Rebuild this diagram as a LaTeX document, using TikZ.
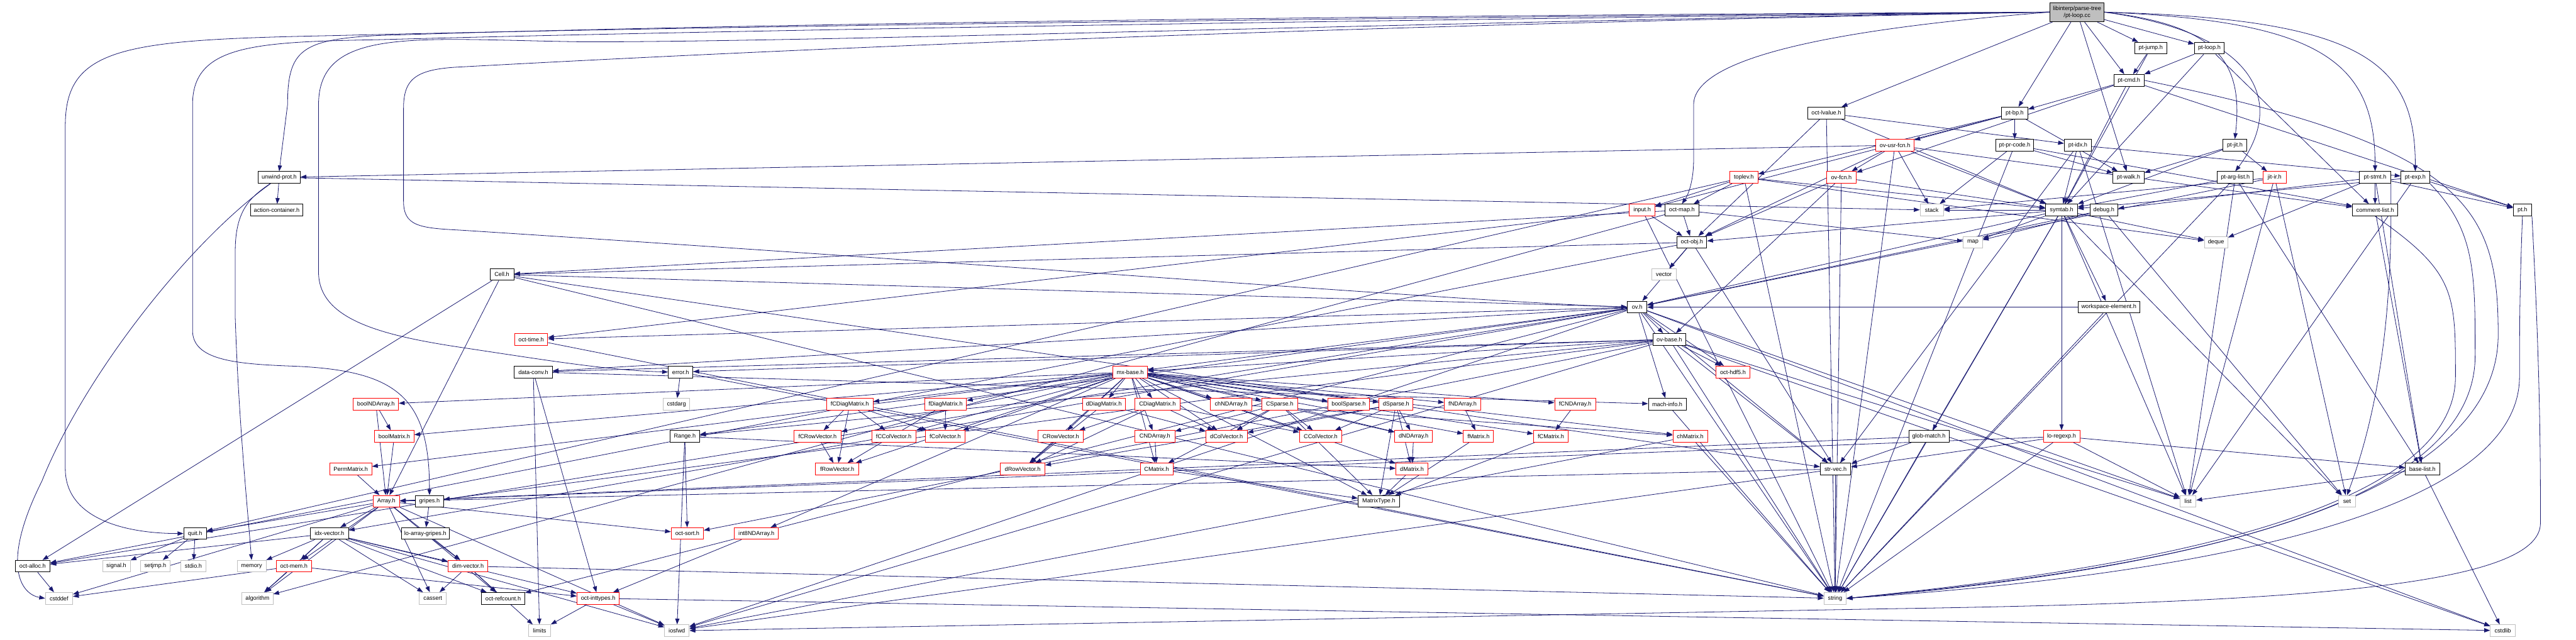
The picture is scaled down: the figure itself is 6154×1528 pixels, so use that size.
\documentclass[tikz,border=0pt]{standalone}
\usepackage{fontspec}
\setmainfont{Liberation Sans}
\usetikzlibrary{arrows.meta}
\definecolor{edgeblue}{RGB}{25,25,112}
\definecolor{sysgray}{RGB}{191,191,191}
\pgfdeclarelayer{background}
\pgfsetlayers{background,main}
\tikzset{
  hdr/.style={draw=black, fill=white, line width=0.7pt, minimum height=14pt, inner xsep=2pt, inner ysep=0pt, font=\fontsize{6.9}{8.3}\selectfont, text=black},
  redh/.style={hdr, draw=red},
  sysh/.style={hdr, draw=sysgray},
  wd/.style={minimum width=#1*0.5pt},
  edge/.style={draw=edgeblue, line width=0.6pt, -{Triangle[length=7pt,width=5pt]}},
}
\begin{document}
\begin{tikzpicture}[x=0.5pt,y=-0.5pt]
\useasboundingbox (0,0) rectangle (6154,1528);
% ---------- nodes ----------
\node[hdr, fill=sysgray, align=center, wd=129, minimum height=23pt] (ptloopcc) at (4962,29) {libinterp/parse-tree\\/pt-loop.cc};
\node[hdr,wd=77] (ptjump) at (5138,115) {pt-jump.h};
\node[hdr,wd=71] (ptloop) at (5278,115) {pt-loop.h};
\node[hdr,wd=72] (ptcmd) at (5086,192) {pt-cmd.h};
\node[hdr,wd=90] (octlvalue) at (4363,270) {oct-lvalue.h};
\node[hdr,wd=63] (ptbp) at (4813,270) {pt-bp.h};
\node[redh,wd=91] (ovusrfcn) at (4527,347) {ov-usr-fcn.h};
\node[hdr,wd=90] (ptprcode) at (4813,347) {pt-pr-code.h};
\node[hdr,wd=65] (ptidx) at (4964,347) {pt-idx.h};
\node[hdr,wd=58] (ptjit) at (5339,347) {pt-jit.h};
\node[hdr,wd=100] (unwind) at (667,424) {unwind-prot.h};
\node[redh,wd=67] (toplev) at (4166,424) {toplev.h};
\node[redh,wd=70] (ovfcn) at (4399,424) {ov-fcn.h};
\node[hdr,wd=74] (ptwalk) at (5085,424) {pt-walk.h};
\node[hdr,wd=86] (ptarglist) at (5340,424) {pt-arg-list.h};
\node[redh,wd=55] (jitir) at (5434,424) {jit-ir.h};
\node[hdr,wd=74] (ptstmt) at (5674,424) {pt-stmt.h};
\node[hdr,wd=69] (ptexp) at (5770,424) {pt-exp.h};
\node[hdr,wd=126] (action) at (661,502) {action-container.h};
\node[redh,wd=61] (input) at (3923,502) {input.h};
\node[hdr,wd=81] (octmap) at (4018,502) {oct-map.h};
\node[sysh,wd=56] (stack) at (4615,502) {stack};
\node[hdr,wd=76] (symtab) at (4925,502) {symtab.h};
\node[hdr,wd=67] (debug) at (5026,502) {debug.h};
\node[hdr,wd=108] (commentlist) at (5674,502) {comment-list.h};
\node[hdr,wd=44] (pt) at (6026,502) {pt.h};
\node[hdr,wd=71] (octobj) at (4042,579) {oct-obj.h};
\node[sysh,wd=46] (map) at (4713,579) {map};
\node[sysh,wd=56] (deque) at (5294,579) {deque};
\node[hdr,wd=57] (cell) at (1199,656) {Cell.h};
\node[sysh,wd=59] (vector) at (3975,656) {vector};
\node[hdr,wd=47] (ov) at (3911,734) {ov.h};
\node[hdr,wd=147] (workspace) at (5038,734) {workspace-element.h};
\node[redh,wd=79] (octtime) at (1269,811) {oct-time.h};
\node[hdr,wd=79] (ovbase) at (3988,811) {ov-base.h};
\node[hdr,wd=91] (dataconv) at (1274,889) {data-conv.h};
\node[hdr,wd=59] (error) at (1626,889) {error.h};
\node[redh,wd=82] (mxbase) at (2700,889) {mx-base.h};
\node[redh,wd=81] (octhdf5) at (4140,889) {oct-hdf5.h};
\node[redh,wd=108] (boolNDArray) at (898,966) {boolNDArray.h};
\node[sysh,wd=64] (cstdarg) at (1616,966) {cstdarg};
\node[redh,wd=111] (fCDiagMatrix) at (2030,966) {fCDiagMatrix.h};
\node[redh,wd=100] (fDiagMatrix) at (2259,966) {fDiagMatrix.h};
\node[redh,wd=102] (dDiagMatrix) at (2637,966) {dDiagMatrix.h};
\node[redh,wd=108] (CDiagMatrix) at (2765,966) {CDiagMatrix.h};
\node[redh,wd=98] (chNDArray) at (2941,966) {chNDArray.h};
\node[redh,wd=85] (CSparse) at (3057,966) {CSparse.h};
\node[redh,wd=98] (boolSparse) at (3222,966) {boolSparse.h};
\node[redh,wd=81] (dSparse) at (3335,966) {dSparse.h};
\node[redh,wd=87] (fNDArray) at (3494,966) {fNDArray.h};
\node[redh,wd=98] (fCNDArray) at (3763,966) {fCNDArray.h};
\node[hdr,wd=90] (machinfo) at (3983,966) {mach-info.h};
\node[redh,wd=94] (boolMatrix) at (942,1043) {boolMatrix.h};
\node[hdr,wd=71] (Range) at (1636,1043) {Range.h};
\node[redh,wd=112] (fCRowVector) at (1953,1043) {fCRowVector.h};
\node[redh,wd=105] (fCColVector) at (2135,1043) {fCColVector.h};
\node[redh,wd=94] (fColVector) at (2258,1043) {fColVector.h};
\node[redh,wd=108] (CRowVector) at (2534,1043) {CRowVector.h};
\node[redh,wd=95] (CNDArray) at (2759,1043) {CNDArray.h};
\node[redh,wd=99] (dColVector) at (2930,1043) {dColVector.h};
\node[redh,wd=101] (CColVector) at (3155,1043) {CColVector.h};
\node[redh,wd=90] (dNDArray) at (3377,1043) {dNDArray.h};
\node[redh,wd=72] (fMatrix) at (3532,1043) {fMatrix.h};
\node[redh,wd=83] (fCMatrix) at (3705,1043) {fCMatrix.h};
\node[redh,wd=83] (chMatrix) at (4038,1043) {chMatrix.h};
\node[hdr,wd=96] (globmatch) at (4608,1043) {glob-match.h};
\node[redh,wd=87] (loregexp) at (4925,1043) {lo-regexp.h};
\node[redh,wd=100] (PermMatrix) at (838,1121) {PermMatrix.h};
\node[redh,wd=103] (fRowVector) at (2000,1121) {fRowVector.h};
\node[redh,wd=106] (dRowVector) at (2443,1121) {dRowVector.h};
\node[redh,wd=78] (CMatrix) at (2763,1121) {CMatrix.h};
\node[redh,wd=76] (dMatrix) at (3373,1121) {dMatrix.h};
\node[hdr,wd=73] (strvec) at (4385,1121) {str-vec.h};
\node[hdr,wd=82] (baselist) at (5787,1121) {base-list.h};
\node[redh,wd=63] (Array) at (923,1198) {Array.h};
\node[hdr,wd=67] (gripes) at (1026,1198) {gripes.h};
\node[hdr,wd=99] (MatrixType) at (3294,1198) {MatrixType.h};
\node[sysh,wd=38] (list) at (5227,1198) {list};
\node[sysh,wd=40] (set) at (5607,1198) {set};
\node[hdr,wd=54] (quit) at (466,1275) {quit.h};
\node[hdr,wd=91] (idxvector) at (787,1275) {idx-vector.h};
\node[hdr,wd=114] (loarraygripes) at (1016,1275) {lo-array-gripes.h};
\node[redh,wd=77] (octsort) at (1642,1275) {oct-sort.h};
\node[redh,wd=105] (int8NDArray) at (1807,1275) {int8NDArray.h};
\node[hdr,wd=83] (octalloc) at (78,1353) {oct-alloc.h};
\node[sysh,wd=66] (signal) at (278,1353) {signal.h};
\node[sysh,wd=72] (setjmp) at (371,1353) {setjmp.h};
\node[sysh,wd=61] (stdio) at (462,1353) {stdio.h};
\node[sysh,wd=69] (memory) at (601,1353) {memory};
\node[redh,wd=84] (octmem) at (702,1353) {oct-mem.h};
\node[redh,wd=95] (dimvector) at (1118,1353) {dim-vector.h};
\node[sysh,wd=65] (cstddef) at (141,1430) {cstddef};
\node[sysh,wd=74] (algorithm) at (615,1430) {algorithm};
\node[sysh,wd=64] (cassert) at (1034,1430) {cassert};
\node[hdr,wd=103] (octrefcount) at (1202,1430) {oct-refcount.h};
\node[redh,wd=101] (octinttypes) at (1429,1430) {oct-inttypes.h};
\node[sysh,wd=53] (string) at (4384,1430) {string};
\node[sysh,wd=53] (limits) at (1289,1507) {limits};
\node[sysh,wd=59] (iosfwd) at (1617,1507) {iosfwd};
\node[sysh,wd=59] (cstdlib) at (5979,1507) {cstdlib};
% ---------- edges ----------
\begin{pgfonlayer}{background}
\fill[white] (0,0) rectangle (6154,1528);
% root
\foreach \tg in {ptjump,ptloop,ptcmd,ptbp,octlvalue,ptwalk} \draw[edge] (ptloopcc) -- (\tg);
\draw[edge] (ptloopcc.west) .. controls (3500,40) and (1800,60) .. (800,85) .. controls (300,95) and (156,110) .. (156,300) -- (156,1120) .. controls (156,1240) and (300,1275) .. (quit.west);
\draw[edge] (ptloopcc.west) .. controls (3500,45) and (1800,70) .. (900,95) .. controls (600,100) and (460,110) .. (460,250) -- (460,790) .. controls (460,860) and (560,870) .. (700,875) .. controls (950,885) and (1026,950) .. (gripes.north);
\draw[edge] (ptloopcc.west) .. controls (3500,50) and (2000,100) .. (1400,100) .. controls (1000,95) and (761,60) .. (761,250) -- (761,650) .. controls (761,760) and (900,800) .. (1100,830) .. controls (1300,860) and (1450,885) .. (error.west);
\draw[edge] (ptloopcc.west) .. controls (3500,35) and (1800,55) .. (900,85) .. controls (720,95) and (687,120) .. (687,250) -- (unwind.north);
\draw[edge] (ptloopcc.west) .. controls (4500,60) and (4046,120) .. (4046,250) -- (4046,380) .. controls (4046,440) and (4030,470) .. (octmap.north);
\draw[edge] (ptloopcc.west) .. controls (3500,55) and (2200,100) .. (1100,160) .. controls (990,165) and (964,190) .. (964,260) -- (964,480) .. controls (964,540) and (1000,545) .. (1100,550) .. controls (2500,640) and (3500,720) .. (ov.west);
\draw[edge] (ptloopcc.east) .. controls (5300,60) and (5360,150) .. (ptjit.north);
\draw[edge] (ptloopcc.east) .. controls (5400,80) and (5460,250) .. (ptarglist.north);
\draw[edge] (ptloopcc.east) .. controls (5550,50) and (5674,150) .. (ptstmt.north);
\draw[edge] (ptloopcc.east) .. controls (5650,45) and (5770,150) .. (ptexp.north);
% parse tree
\foreach \tg in {ptcmd,symtab} \draw[edge] (ptjump) -- (\tg);
\foreach \tg in {ptcmd,commentlist,symtab} \draw[edge] (ptloop) -- (\tg);
\foreach \tg in {ptbp,ovfcn,symtab,pt} \draw[edge] (ptcmd) -- (\tg);
\draw[edge] (ptcmd.east) .. controls (5900,350) and (5968,500) .. (5968,800) .. controls (5968,1250) and (5000,1380) .. (string.east);
\foreach \tg in {input,ovusrfcn,ptwalk,ptprcode,toplev} \draw[edge] (ptbp) -- (\tg);
\foreach \tg in {octobj,ptidx,symtab,string} \draw[edge] (octlvalue) -- (\tg);
\foreach \tg in {ovfcn,stack,symtab,unwind,commentlist,string,octobj} \draw[edge] (ovusrfcn) -- (\tg);
\foreach \tg in {stack,ptwalk,commentlist,string} \draw[edge] (ptprcode) -- (\tg);
\foreach \tg in {symtab,ptexp,strvec,list} \draw[edge] (ptidx) -- (\tg);
\foreach \tg in {jitir,ptwalk,symtab} \draw[edge] (ptjit) -- (\tg);
\foreach \tg in {symtab,deque,string,quit,input,octmap} \draw[edge] (toplev) -- (\tg);
\foreach \tg in {octobj,ovbase,symtab,string} \draw[edge] (ovfcn) -- (\tg);
\foreach \tg in {stack,action} \draw[edge] (unwind) -- (\tg);
\draw[edge] (unwind) .. controls (450,580) and (200,900) .. (100,1150) .. controls (0,1350) and (50,1420) .. (cstddef.west);
\draw[edge] (unwind) .. controls (600,470) and (562,500) .. (562,600) -- (562,760) .. controls (570,1000) and (590,1200) .. (memory.north);
\foreach \tg in {list,baselist,string,symtab} \draw[edge] (ptarglist) -- (\tg);
\foreach \tg in {list,set,stack,ov} \draw[edge] (jitir) -- (\tg);
\foreach \tg in {commentlist,pt,deque,debug,baselist} \draw[edge] (ptstmt) -- (\tg);
\draw[edge] (ptstmt.south east) .. controls (5713,600) and (5713,900) .. (set.north);
\foreach \tg in {pt,symtab,list} \draw[edge] (ptexp) -- (\tg);
\draw[edge] (ptexp.south east) .. controls (5913,550) and (5913,650) .. (5913,850) .. controls (5913,1260) and (5000,1375) .. (string.east);
\draw[edge] (commentlist) -- (baselist);
\draw[edge] (commentlist.south) .. controls (5866,650) and (5866,700) .. (5866,900) .. controls (5866,1250) and (5000,1370) .. (string.east);
\draw[edge] (pt.south) .. controls (6019,700) and (6019,800) .. (6019,900) .. controls (6019,1280) and (5000,1390) .. (string.east);
\draw[edge] (pt.south east) .. controls (6069,900) and (6069,1100) .. (6069,1250) .. controls (6069,1400) and (5500,1440) .. (4500,1455) -- (iosfwd.east);
% interpreter
\foreach \tg in {octobj,octtime,string} \draw[edge] (input) -- (\tg);
\foreach \tg in {octobj,map,cell,algorithm} \draw[edge] (octmap) -- (\tg);
\foreach \tg in {stack,map,workspace,octobj,globmatch,loregexp,string,deque,list,set,ov} \draw[edge] (symtab) -- (\tg);
\foreach \tg in {map,set,ov} \draw[edge] (debug) -- (\tg);
\foreach \tg in {vector,ov,cell,octalloc,strvec} \draw[edge] (octobj) -- (\tg);
\foreach \tg in {Array,octalloc,strvec,ov,string} \draw[edge] (cell) -- (\tg);
\foreach \tg in {ovbase,machinfo,octhdf5,strvec,string,list,cstdlib,iosfwd,Range,dataconv,octtime,idxvector,octalloc,mxbase,octrefcount} \draw[edge] (ov) -- (\tg);
\foreach \tg in {string,ov} \draw[edge] (workspace) -- (\tg);
\foreach \tg in {Range,dataconv,mxbase,octhdf5,strvec,string,list,cstdlib,iosfwd,error,gripes,octsort} \draw[edge] (ovbase) -- (\tg);
\draw[edge] (octtime) -- (string);
\foreach \tg in {limits,octinttypes,machinfo} \draw[edge] (dataconv) -- (\tg);
\foreach \tg in {cstdarg,string} \draw[edge] (error) -- (\tg);
% liboctave
\foreach \tg in {MatrixType,dMatrix,CMatrix,fMatrix,fCMatrix,boolMatrix,chMatrix,dRowVector,CRowVector,fRowVector,fCRowVector,dColVector,CColVector,fColVector,fCColVector,dDiagMatrix,CDiagMatrix,fDiagMatrix,fCDiagMatrix,PermMatrix,boolNDArray,dNDArray,CNDArray,fNDArray,fCNDArray,chNDArray,boolSparse,dSparse,CSparse,int8NDArray} \draw[edge] (mxbase) -- (\tg);
\foreach \tg in {boolMatrix,Array} \draw[edge] (boolNDArray) -- (\tg);
\draw[edge] (boolMatrix) -- (Array);
\draw[edge] (PermMatrix) -- (Array);
\foreach \tg in {fCRowVector,fRowVector,fCColVector,fColVector} \draw[edge] (fCDiagMatrix) -- (\tg);
\foreach \tg in {fColVector,fRowVector} \draw[edge] (fDiagMatrix) -- (\tg);
\foreach \tg in {dRowVector,dColVector} \draw[edge] (dDiagMatrix) -- (\tg);
\foreach \tg in {CRowVector,dRowVector,dColVector,CColVector} \draw[edge] (CDiagMatrix) -- (\tg);
\draw[edge] (chNDArray) -- (chMatrix);
\foreach \tg in {dColVector,CNDArray,CColVector,dNDArray,MatrixType,CMatrix} \draw[edge] (CSparse) -- (\tg);
\foreach \tg in {CColVector,dNDArray,dMatrix,MatrixType,dColVector,dRowVector} \draw[edge] (dSparse) -- (\tg);
\draw[edge] (fNDArray) -- (fMatrix);
\draw[edge] (fCNDArray) -- (fCMatrix);
\draw[edge] (dNDArray) -- (dMatrix);
\foreach \tg in {fMatrix,fCMatrix,dMatrix,CMatrix} \draw[edge] (\tg) -- (MatrixType);
\draw[edge] (CNDArray) -- (CMatrix);
\draw[edge] (CRowVector) -- (dRowVector);
\draw[edge] (fCRowVector) -- (fRowVector);
\draw[edge] (int8NDArray) -- (octinttypes);
\foreach \tg in {octsort,iosfwd,dMatrix} \draw[edge] (Range) -- (\tg);
\draw[edge] (machinfo) -- (string);
\foreach \tg in {Array,strvec,string} \draw[edge] (globmatch) -- (\tg);
\foreach \tg in {strvec,Array,string,list,baselist} \draw[edge] (loregexp) -- (\tg);
\foreach \tg in {string,Array,iosfwd} \draw[edge] (strvec) -- (\tg);
\foreach \tg in {list,cstdlib} \draw[edge] (baselist) -- (\tg);
\foreach \tg in {string,iosfwd} \draw[edge] (chMatrix) -- (\tg);
\foreach \tg in {quit,idxvector,octmem,cstddef,algorithm,cassert,dimvector,octrefcount,octsort,iosfwd} \draw[edge] (Array) -- (\tg);
\draw[edge] (gripes) -- (loarraygripes);
\draw[edge] (loarraygripes) -- (dimvector);
\foreach \tg in {signal,setjmp,stdio} \draw[edge] (quit) -- (\tg);
\foreach \tg in {octalloc,memory,octmem,algorithm,cassert,dimvector,octinttypes,octrefcount,iosfwd} \draw[edge] (idxvector) -- (\tg);
\foreach \tg in {cstddef,algorithm,octinttypes} \draw[edge] (octmem) -- (\tg);
\draw[edge] (octalloc) -- (cstddef);
\foreach \tg in {cassert,octrefcount,limits,string} \draw[edge] (dimvector) -- (\tg);
\foreach \tg in {limits,iosfwd,cstdlib} \draw[edge] (octinttypes) -- (\tg);
\end{pgfonlayer}
\end{tikzpicture}
\end{document}
